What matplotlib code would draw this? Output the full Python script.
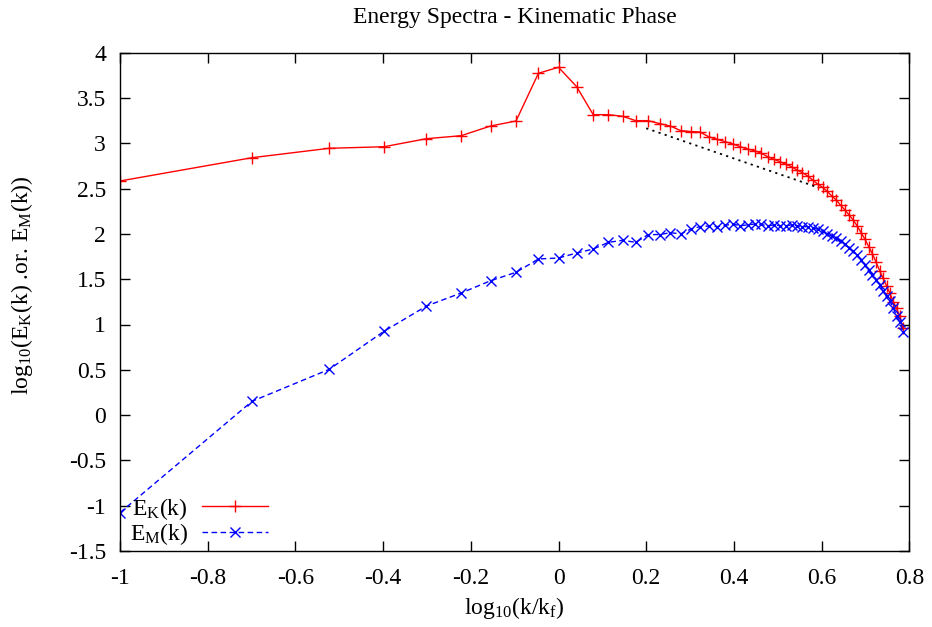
import numpy as np
import matplotlib
matplotlib.use("Agg")
import matplotlib.pyplot as plt

plt.rcParams['font.family'] = ['Liberation Serif', 'DejaVu Serif']
plt.rcParams['mathtext.fontset'] = 'custom'
plt.rcParams['mathtext.rm'] = 'Liberation Serif'
plt.rcParams['mathtext.it'] = 'Liberation Serif:italic'

# wavenumbers and forcing wavenumber
k = np.arange(1, 62)
k_f = 10.0

E_K = [2.584, 2.841, 2.945, 2.962, 3.051, 3.084, 3.191, 3.246, 3.773, 3.839,
       3.625, 3.316, 3.316, 3.298, 3.250, 3.250, 3.218, 3.190, 3.140, 3.130,
       3.125, 3.073, 3.044, 3.018, 2.992, 2.962, 2.937, 2.918, 2.890, 2.852,
       2.823, 2.797, 2.768, 2.742, 2.705, 2.676, 2.639, 2.595, 2.550, 2.514,
       2.470, 2.418, 2.374, 2.316, 2.264, 2.209, 2.153, 2.087, 2.013, 1.940,
       1.859, 1.778, 1.687, 1.594, 1.510, 1.425, 1.344, 1.252, 1.180, 1.090,
       0.960]

E_M = [-1.077, 0.152, 0.505, 0.925, 1.204, 1.348, 1.483, 1.576, 1.723, 1.734,
       1.789, 1.833, 1.907, 1.929, 1.907, 1.992, 1.993, 2.013, 2.000, 2.052,
       2.080, 2.087, 2.080, 2.095, 2.109, 2.090, 2.100, 2.109, 2.105, 2.087,
       2.100, 2.090, 2.087, 2.100, 2.090, 2.080, 2.080, 2.070, 2.050, 2.030,
       2.000, 1.977, 1.951, 1.918, 1.885, 1.845, 1.807, 1.763, 1.716, 1.660,
       1.605, 1.550, 1.494, 1.439, 1.374, 1.311, 1.256, 1.183, 1.098, 1.024,
       0.920]

# -5/3 reference line
ref_x = [0.2, 0.59]
ref_y = [3.166, 3.166 - 5.0 / 3.0 * (0.59 - 0.2)]

xticks = [-1, -0.8, -0.6, -0.4, -0.2, 0, 0.2, 0.4, 0.6, 0.8]
yticks = [-1.5, -1, -0.5, 0, 0.5, 1, 1.5, 2, 2.5, 3, 3.5, 4]

x = np.log10(k / k_f)

fig = plt.figure(figsize=(9.32, 6.27), dpi=100)
ax_w = (909.3 - 120) / 932
ax_h = (551 - 52.7) / 627
ax = fig.add_axes([120 / 932, 1 - 551 / 627, ax_w, ax_h])

ax.plot(x, E_K, color='#ff0000', lw=1.0, marker='+', ms=9, mew=1.0,
        label=r'E$_{\mathrm{K}}$(k)')
ax.plot(x, E_M, color='#0000ff', lw=1.0, ls=(0, (4, 2.5)), marker='x', ms=7, mew=1.0,
        label=r'E$_{\mathrm{M}}$(k)')
ax.plot(ref_x, ref_y, color='black', lw=1.3, ls=(0, (1.2, 2.4)))

ax.set_xlim(-1, 0.8)
ax.set_ylim(-1.5, 4)
ax.set_xticks(xticks)
ax.set_yticks(yticks)
ax.set_xticklabels([f'{v:g}' for v in xticks])
ax.set_yticklabels([f'{v:g}' for v in yticks])
ax.tick_params(direction='in', length=7, width=1, top=True, right=True,
               labelsize=17, pad=10)
ax.tick_params(axis='x', pad=12)
for s in ax.spines.values():
    s.set_linewidth(1.0)

fig.text(514.5 / 932, 1 - 17 / 627, 'Energy Spectra - Kinematic Phase',
         ha='center', va='center', fontsize=17)
fig.text(514.5 / 932, 1 - 608 / 627, r'log$_{\mathrm{10}}$(k/k$_{\mathrm{f}}$)',
         ha='center', va='center', fontsize=17)
fig.text(22 / 932, 1 - 285 / 627, r'log$_{\mathrm{10}}$(E$_{\mathrm{K}}$(k) .or. E$_{\mathrm{M}}$(k))',
         ha='center', va='center', rotation=90, fontsize=17)

leg = ax.legend(loc='lower left',
                bbox_to_anchor=(-7 / (ax_w * 932), -13 / (ax_h * 627)),
                frameon=False,
                markerfirst=False, fontsize=17, handlelength=2.8,
                labelspacing=0.0, handletextpad=0.6, borderaxespad=0.3)

fig.savefig('out.png', dpi=100)
